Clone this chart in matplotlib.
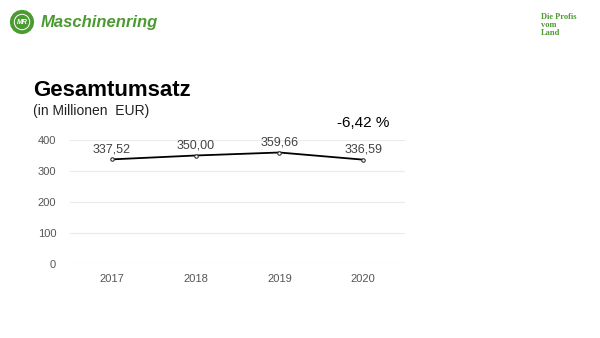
import matplotlib.pyplot as plt
from matplotlib.patches import Circle, RegularPolygon

plt.rcParams['font.family'] = ['Liberation Sans', 'DejaVu Sans']

years = ['2017', '2018', '2019', '2020']
umsatz = [337.52, 350.00, 359.66, 336.59]
labels = ['337,52', '350,00', '359,66', '336,59']
y_ticks = [0, 100, 200, 300, 400]

green = '#4b9b32'

fig = plt.figure(figsize=(6, 3.38), dpi=100)
ax = fig.add_axes([70 / 600, 1 - 264 / 338, 335 / 600, 124 / 338])

x = range(len(years))
ax.plot(x, umsatz, color='black', lw=1.3, marker='o', ms=2.5,
        mfc='white', mec='#333333', mew=0.8, zorder=3)
for xi, v, t in zip(x, umsatz, labels):
    ax.annotate(t, (xi, v), xytext=(0, 3), textcoords='offset points',
                ha='center', va='bottom', fontsize=9, color='#444444')

ax.set_xlim(-0.5, len(years) - 0.5)
ax.set_ylim(0, 400)
ax.set_yticks(y_ticks)
ax.set_xticks(list(x))
ax.set_xticklabels(years)
ax.grid(axis='y', color='#ebebeb', lw=0.8)
ax.set_axisbelow(True)
for s in ax.spines.values():
    s.set_visible(False)
ax.tick_params(length=0, labelsize=8, colors='#555555', pad=7)
ax.tick_params(axis='y', pad=10)

# Titel
fig.text(33 / 600, 1 - 91 / 338, 'Gesamtumsatz', fontsize=16, fontweight='bold',
         va='center', ha='left', color='black')
fig.text(33 / 600, 1 - 111 / 338, '(in Millionen  EUR)', fontsize=10,
         va='center', ha='left', color='#222222')
fig.text(363 / 600, 1 - 123 / 338, '-6,42 %', fontsize=11, va='center',
         ha='center', color='black')

# Logo
logo = fig.add_axes([0, 1 - 44 / 338, 44 / 600, 44 / 338])
logo.set_xlim(0, 44)
logo.set_ylim(44, 0)
logo.set_aspect('equal')
logo.axis('off')
logo.add_patch(RegularPolygon((22, 22), 16, radius=11.5, color=green))
logo.add_patch(Circle((22, 22), 7.5, color='white'))
logo.add_patch(Circle((22, 22), 6.5, color=green))
logo.text(22, 22.5, 'MR', fontsize=5, fontweight='bold', color='white',
          ha='center', va='center', style='italic')
fig.text(41 / 600, 1 - 22 / 338, 'Maschinenring', fontsize=12, fontweight='bold',
         style='italic', color=green, va='center', ha='left')

fig.text(541 / 600, 1 - 25 / 338, 'Die Profis\nvom\nLand', fontsize=6,
         fontweight='bold', color=green, va='center', ha='left',
         family='Liberation Serif', linespacing=0.95)

fig.savefig('out.png', dpi=100)
